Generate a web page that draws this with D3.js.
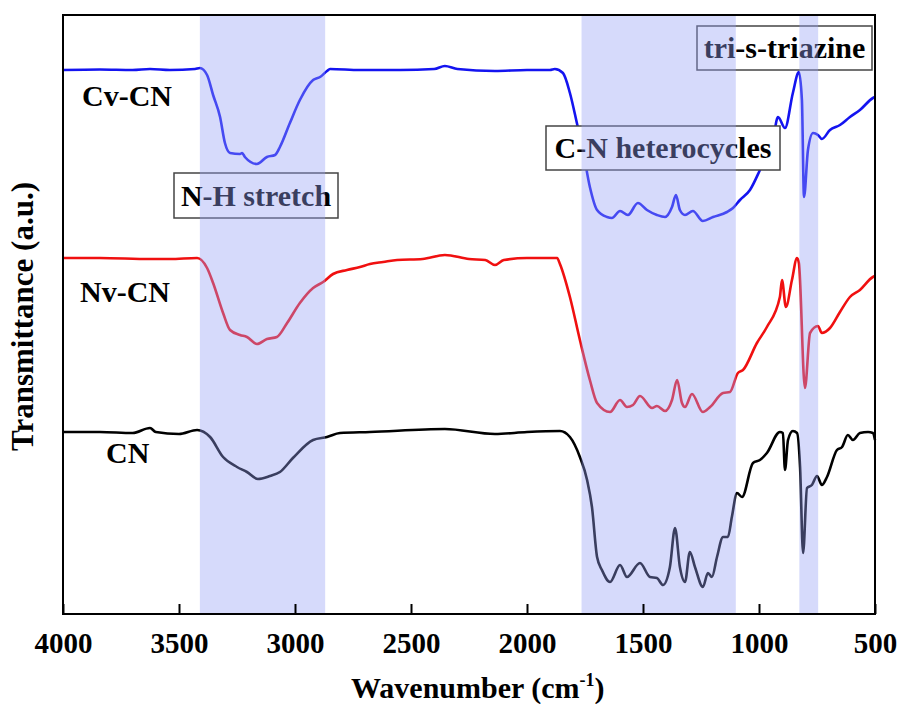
<!DOCTYPE html>
<html>
<head>
<meta charset="utf-8">
<script src="https://cdn.jsdelivr.net/npm/d3@7"></script>
<style>
  body { margin: 0; background: #fff; }
  text { font-family: "Liberation Serif", "Times New Roman", serif; font-weight: bold; }
</style>
</head>
<body>
<svg></svg>
<script>
// wavenumber (cm-1), transmittance (a.u., offset stacked)
const cvCN = [[4000,544],[3841,544.5],[3700,544],[3625,545],[3539,544],[3431,545],[3410,546],[3379,539],[3353,519],
  [3323,497],[3302,471],[3280,461],[3237,460],[3228,461],[3216,457],[3164,450],[3121,457],[3086,459],[3065,467],
  [3022,491],[2979,514],[2922,534],[2892,537],[2862,543],[2849,545],[2720,544],[2547,544],[2400,545],[2354,548],
  [2300,545],[2138,543],[2000,544],[1901,544],[1880,545],[1845,541],[1815,521],[1785,491],[1759,464],[1729,427],
  [1698,404],[1655,397],[1634,396],[1599,403],[1565,399],[1522,411],[1483,404],[1440,399],[1405,397],[1375,407],
  [1358,419],[1341,404],[1319,399],[1285,403],[1242,393],[1198,397],[1138,402],[1112,406],[1082,414],[1039,424],
  [996,444],[940,474],[918,497],[888,486],[854,521],[828,542],[815,514],[806,417],[789,464],[767,481],[746,479],
  [729,475],[694,484],[651,489],[608,497],[565,504],[509,516],[500,517]];

const nvCN = [[4000,356],[3841,356],[3625,355],[3539,355],[3422,356],[3379,346],[3353,331],[3310,301],[3280,284],
  [3237,279],[3207,277],[3164,270],[3121,275],[3078,277],[3034,291],[2979,311],[2922,326],[2879,332],[2836,340],
  [2776,344],[2720,347],[2677,350],[2620,352],[2560,354],[2450,355],[2354,359],[2250,355],[2180,354],[2138,349],
  [2100,354],[2000,356],[1901,356],[1870,356],[1858,350],[1815,317],[1772,274],[1729,234],[1698,211],[1642,202],
  [1599,214],[1569,207],[1543,209],[1513,218],[1461,206],[1440,208],[1405,203],[1375,214],[1353,234],[1332,211],
  [1319,207],[1289,220],[1242,202],[1211,207],[1155,221],[1125,222],[1091,241],[1069,244],[1009,271],[966,287],
  [910,317],[901,334],[884,307],[858,334],[836,356],[828,351],[802,226],[780,281],[746,288],[729,281],[694,286],
  [651,302],[608,317],[565,324],[509,337],[500,338]];

const cn = [[4000,182],[3841,182],[3700,181],[3625,186],[3600,182],[3500,180],[3422,184],[3366,177],[3310,157],
  [3250,147],[3207,142],[3160,135],[3108,138],[3065,142],[3009,156],[2922,174],[2862,177],[2806,181],[2677,182],
  [2354,185],[2138,180],[2000,182],[1858,183],[1815,177],[1772,157],[1741,134],[1720,107],[1698,57],[1677,44],
  [1642,32],[1599,49],[1569,37],[1513,51],[1470,37],[1440,36],[1414,29],[1384,47],[1362,86],[1341,47],[1319,32],
  [1298,62],[1276,47],[1242,27],[1220,41],[1203,37],[1181,57],[1155,77],[1134,77],[1117,97],[1095,121],[1073,117],
  [1026,151],[996,154],[966,161],[910,182],[897,181],[888,144],[875,174],[854,183],[836,181],[823,147],[810,61],
  [793,126],[772,129],[750,138],[729,129],[707,137],[664,164],[642,167],[617,179],[595,174],[565,181],[530,182],
  [509,181],[500,174]];

const bands = [[3410, 2870], [1765, 1100], [826, 745]];
const xTicks = [4000, 3500, 3000, 2500, 2000, 1500, 1000, 500];

const width = 903, height = 704;
const mLeft = 63, mRight = 875, mTop = 15, mBottom = 614;

const x = d3.scaleLinear().domain([4000, 500]).range([mLeft, mRight]);
const y = d3.scaleLinear().domain([0, 600]).range([mBottom, mBottom - 600]);

const svg = d3.select('svg')
    .attr('width', width)
    .attr('height', height);

const line = d3.line()
    .x(d => x(d[0]))
    .y(d => y(d[1]))
    .curve(d3.curveMonotoneX);

const series = [
  {data: cn, color: '#000000', name: 'CN', lx: 106, ly: 463},
  {data: nvCN, color: '#f01010', name: 'Nv-CN', lx: 80, ly: 302},
  {data: cvCN, color: '#1414f0', name: 'Cv-CN', lx: 82, ly: 106}
];

svg.selectAll('path.curve')
    .data(series)
    .join('path')
    .attr('class', 'curve')
    .attr('d', d => line(d.data))
    .attr('fill', 'none')
    .attr('stroke', d => d.color)
    .attr('stroke-width', 2.6)
    .attr('stroke-linejoin', 'round');

svg.selectAll('text.name')
    .data(series)
    .join('text')
    .attr('class', 'name')
    .attr('x', d => d.lx)
    .attr('y', d => d.ly)
    .attr('font-size', 30)
    .text(d => d.name);

// boxed annotations
const notes = [
  {t: 'N-H stretch', x: 174, y: 173, w: 164, h: 45},
  {t: 'C-N heterocycles', x: 546, y: 126, w: 234, h: 44},
  {t: 'tri-s-triazine', x: 697, y: 26, w: 175, h: 44}
];

const gNotes = svg.selectAll('g.note')
    .data(notes)
    .join('g')
    .attr('class', 'note');

gNotes.append('rect')
    .attr('x', d => d.x)
    .attr('y', d => d.y)
    .attr('width', d => d.w)
    .attr('height', d => d.h)
    .attr('fill', '#fff')
    .attr('stroke', '#444')
    .attr('stroke-width', 1.5);

gNotes.append('text')
    .attr('x', d => d.x + d.w / 2)
    .attr('y', d => d.y + d.h - 12)
    .attr('text-anchor', 'middle')
    .attr('font-size', 30)
    .text(d => d.t);

// shaded bands drawn over everything inside the plot
svg.selectAll('rect.band')
    .data(bands)
    .join('rect')
    .attr('class', 'band')
    .attr('x', d => x(d[0]))
    .attr('y', mTop)
    .attr('width', d => x(d[1]) - x(d[0]))
    .attr('height', mBottom - mTop)
    .attr('fill', 'rgba(150,160,245,0.39)');

// frame
svg.append('rect')
    .attr('x', mLeft)
    .attr('y', mTop)
    .attr('width', mRight - mLeft)
    .attr('height', mBottom - mTop)
    .attr('fill', 'none')
    .attr('stroke', '#000')
    .attr('stroke-width', 2);

const xAxis = d3.axisBottom(x)
    .tickValues(xTicks)
    .tickSizeInner(-10)
    .tickSizeOuter(0)
    .tickPadding(18)
    .tickFormat(d3.format('d'));

const gx = svg.append('g')
    .attr('transform', `translate(0, ${mBottom})`)
    .call(xAxis);

gx.select('.domain').remove();
gx.selectAll('line').attr('stroke-width', 2);
gx.selectAll('text')
    .attr('font-size', 29)
    .attr('fill', '#000');

const xTitle = svg.append('text')
    .attr('x', 351)
    .attr('y', 698)
    .attr('font-size', 30);
xTitle.append('tspan').text('Wavenumber (cm');
xTitle.append('tspan').attr('font-size', 18).attr('dy', -12).text('-1');
xTitle.append('tspan').attr('dy', 12).text(')');

svg.append('text')
    .attr('transform', `translate(33, ${(mTop + mBottom) / 2 + 2}) rotate(-90)`)
    .attr('text-anchor', 'middle')
    .attr('font-size', 31)
    .text('Transmittance (a.u.)');
</script>
</body>
</html>
